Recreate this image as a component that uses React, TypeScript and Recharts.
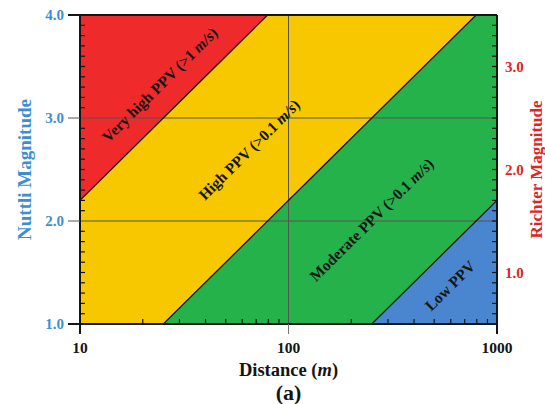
import React from 'react';
import {
  ComposedChart,
  Area,
  Line,
  XAxis,
  YAxis,
  ReferenceLine,
  ReferenceDot,
} from 'recharts';

// distance breakpoints (m) where a zone boundary meets the frame
const distances = [10, 25.1, 79.4, 251, 794, 1000];
// lower edge of each zone (Nuttli magnitude)
const veryHighEdge = [2.2, 3.0, 4.0, 4.0, 4.0, 4.0];
const highEdge = [1.0, 1.0, 2.0, 3.0, 4.0, 4.0];
const moderateEdge = [1.0, 1.0, 1.0, 1.0, 2.0, 2.2];

const distanceTicks = [10, 20, 30, 40, 50, 60, 70, 80, 90, 100, 200, 300, 400, 500, 600, 700, 800, 900, 1000];
const nuttliTicks = [
  1.0, 1.1, 1.2, 1.3, 1.4, 1.5, 1.6, 1.7, 1.8, 1.9,
  2.0, 2.1, 2.2, 2.3, 2.4, 2.5, 2.6, 2.7, 2.8, 2.9,
  3.0, 3.1, 3.2, 3.3, 3.4, 3.5, 3.6, 3.7, 3.8, 3.9, 4.0,
];
const richterTicks = [
  0.5, 0.6, 0.7, 0.8, 0.9, 1.0, 1.1, 1.2, 1.3, 1.4, 1.5, 1.6, 1.7, 1.8, 1.9,
  2.0, 2.1, 2.2, 2.3, 2.4, 2.5, 2.6, 2.7, 2.8, 2.9,
  3.0, 3.1, 3.2, 3.3, 3.4, 3.5,
];

const data = distances.map((d, i) => ({
  d,
  red: [veryHighEdge[i], 4],
  yellow: [highEdge[i], veryHighEdge[i]],
  green: [moderateEdge[i], highEdge[i]],
  blue: [1, moderateEdge[i]],
  b1: veryHighEdge[i],
  b2: highEdge[i],
  b3: moderateEdge[i],
}));

const FONT = '"Liberation Serif", "Times New Roman", serif';
const BLUE = '#3b8fd0';
const RED = '#e02424';
const INK = '#151515';

const isMajor = (v: number) => Math.abs(v - Math.round(v)) < 1e-6;

const LeftTick = (props: any) => {
  const { x, y, payload } = props;
  const v = payload.value;
  if (!isMajor(v)) return <line x1={x} x2={x + 5} y1={y} y2={y} stroke={INK} strokeWidth={1.2} />;
  const edge = v === 1 || v === 4;
  return (
    <g>
      <line x1={x - 12} x2={x} y1={y} y2={y} stroke={edge ? INK : '#555'} strokeWidth={edge ? 2 : 1} />
      <text x={x - 16} y={y} dy={5} textAnchor="end" fill={BLUE} fontFamily={FONT} fontWeight="bold" fontSize={15}>
        {v.toFixed(1)}
      </text>
    </g>
  );
};

const RightTick = (props: any) => {
  const { x, y, payload } = props;
  const v = payload.value;
  if (!isMajor(v)) return <line x1={x - 5} x2={x} y1={y} y2={y} stroke={INK} strokeWidth={1.2} />;
  return (
    <g>
      <line x1={x - 5} x2={x} y1={y} y2={y} stroke={INK} strokeWidth={1.2} />
      <text x={x + 8} y={y} dy={5} textAnchor="start" fill={RED} fontFamily={FONT} fontWeight="bold" fontSize={15}>
        {v.toFixed(1)}
      </text>
    </g>
  );
};

const BottomTick = (props: any) => {
  const { x, y, payload } = props;
  const v = payload.value;
  if (![10, 100, 1000].includes(v)) return <line x1={x} x2={x} y1={y - 5} y2={y} stroke={INK} strokeWidth={1.2} />;
  const edge = v !== 100;
  return (
    <g>
      <line x1={x} x2={x} y1={y} y2={y + 10} stroke={edge ? INK : '#777'} strokeWidth={edge ? 2 : 1} />
      <text x={x} y={y + 29} textAnchor="middle" fill={INK} fontFamily={FONT} fontWeight="bold" fontSize={15.5}>
        {v}
      </text>
    </g>
  );
};

const regionLabel = (content: React.ReactNode) => (props: any) => {
  const vb = props.viewBox || {};
  const cx = (vb.x ?? 0) + (vb.width ?? 0) / 2;
  const cy = (vb.y ?? 0) + (vb.height ?? 0) / 2;
  return (
    <text
      x={cx}
      y={cy}
      dy={5}
      transform={`rotate(-44.7 ${cx} ${cy})`}
      textAnchor="middle"
      fill={INK}
      fontFamily={FONT}
      fontWeight="bold"
      fontSize={15.5}
    >
      {content}
    </text>
  );
};

const ms = <tspan fontStyle="italic">m/s</tspan>;

export default function App() {
  return (
    <div style={{ width: 545, height: 404, background: '#fff' }}>
      <style>{'body{margin:0}'}</style>
      <ComposedChart width={545} height={404} data={data} margin={{ top: 15, right: 0, bottom: 0, left: 0 }}>
        <Area yAxisId="left" type="linear" dataKey="red" stroke="none" fill="#ef2a2a" fillOpacity={1} isAnimationActive={false} dot={false} activeDot={false} />
        <Area yAxisId="left" type="linear" dataKey="yellow" stroke="none" fill="#f7c800" fillOpacity={1} isAnimationActive={false} dot={false} activeDot={false} />
        <Area yAxisId="left" type="linear" dataKey="green" stroke="none" fill="#25b24b" fillOpacity={1} isAnimationActive={false} dot={false} activeDot={false} />
        <Area yAxisId="left" type="linear" dataKey="blue" stroke="none" fill="#4a86d0" fillOpacity={1} isAnimationActive={false} dot={false} activeDot={false} />
        <ReferenceLine yAxisId="left" y={2} stroke="#555" strokeWidth={1} />
        <ReferenceLine yAxisId="left" y={3} stroke="#555" strokeWidth={1} />
        <ReferenceLine yAxisId="left" x={100} stroke="#555" strokeWidth={1} />
        <Line yAxisId="left" type="linear" dataKey="b1" stroke={INK} strokeWidth={1.3} dot={false} activeDot={false} isAnimationActive={false} />
        <Line yAxisId="left" type="linear" dataKey="b2" stroke={INK} strokeWidth={1.3} dot={false} activeDot={false} isAnimationActive={false} />
        <Line yAxisId="left" type="linear" dataKey="b3" stroke={INK} strokeWidth={1.3} dot={false} activeDot={false} isAnimationActive={false} />
        <ReferenceLine yAxisId="left" y={4} stroke={INK} strokeWidth={2} />
        <ReferenceDot yAxisId="left" x={24.2} y={3.32} r={0} fill="none" stroke="none" label={regionLabel(<>Very high PPV ({'>'}1 {ms})</>)} />
        <ReferenceDot yAxisId="left" x={65} y={2.69} r={0} fill="none" stroke="none" label={regionLabel(<>High PPV ({'>'}0.1 {ms})</>)} />
        <ReferenceDot yAxisId="left" x={251} y={2.01} r={0} fill="none" stroke="none" label={regionLabel(<>Moderate PPV ({'>'}0.1 {ms})</>)} />
        <ReferenceDot yAxisId="left" x={596} y={1.37} r={0} fill="none" stroke="none" label={regionLabel('Low PPV')} />
        <XAxis
          dataKey="d"
          type="number"
          scale="log"
          domain={[10, 1000]}
          allowDataOverflow
          ticks={distanceTicks}
          interval={0}
          height={80}
          tickSize={0}
          tickMargin={0}
          tick={<BottomTick />}
          tickLine={false}
          axisLine={{ stroke: INK, strokeWidth: 2 }}
          label={(p: any) => {
            const vb = p.viewBox || {};
            const cx = (vb.x ?? 0) + (vb.width ?? 0) / 2;
            const top = vb.y ?? 0;
            return (
              <g fontFamily={FONT} fontWeight="bold" fill={INK} textAnchor="middle">
                <text x={cx} y={top + 52} fontSize={18.5}>
                  Distance (<tspan fontStyle="italic">m</tspan>)
                </text>
                <text x={cx} y={top + 76} fontSize={22}>(a)</text>
              </g>
            );
          }}
        />
        <YAxis
          yAxisId="left"
          orientation="left"
          type="number"
          domain={[1, 4]}
          allowDataOverflow
          ticks={nuttliTicks}
          interval={0}
          width={80}
          tickSize={0}
          tickMargin={0}
          tick={<LeftTick />}
          tickLine={false}
          axisLine={{ stroke: INK, strokeWidth: 2 }}
          label={(p: any) => {
            const vb = p.viewBox || {};
            const cy = (vb.y ?? 0) + (vb.height ?? 0) / 2;
            return (
              <text x={25} y={cy} transform={`rotate(-90 25 ${cy})`} dy={6} textAnchor="middle" fill={BLUE} fontFamily={FONT} fontWeight="bold" fontSize={19}>
                Nuttli Magnitude
              </text>
            );
          }}
        />
        <YAxis
          yAxisId="right"
          orientation="right"
          type="number"
          domain={[0.5, 3.5]}
          allowDataOverflow
          ticks={richterTicks}
          interval={0}
          width={48}
          tickSize={0}
          tickMargin={0}
          tick={<RightTick />}
          tickLine={false}
          axisLine={{ stroke: INK, strokeWidth: 2 }}
          label={(p: any) => {
            const vb = p.viewBox || {};
            const cy = (vb.y ?? 0) + (vb.height ?? 0) / 2;
            return (
              <text x={536} y={cy} transform={`rotate(-90 536 ${cy})`} dy={6} textAnchor="middle" fill={RED} fontFamily={FONT} fontWeight="bold" fontSize={17}>
                Richter Magnitude
              </text>
            );
          }}
        />
      </ComposedChart>
    </div>
  );
}
